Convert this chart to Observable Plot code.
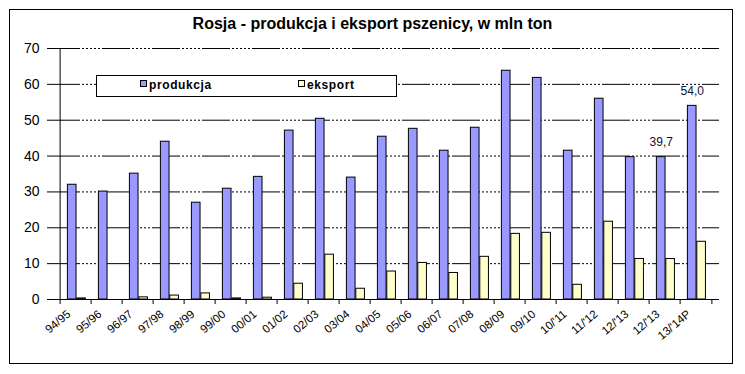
<!DOCTYPE html>
<html>
<head>
<meta charset="utf-8">
<script src="https://cdn.jsdelivr.net/npm/d3@7"></script>
<script src="https://cdn.jsdelivr.net/npm/@observablehq/plot@0.6"></script>
<style>
  html, body { margin: 0; padding: 0; background: #fff; }
  #wrap { position: relative; width: 745px; height: 374px; font-family: Arial, "Liberation Sans", sans-serif; }
  #border { position: absolute; left: 9px; top: 9px; width: 724px; height: 355px; box-sizing: border-box; border: 1px solid #000; }
  #title { position: absolute; left: 0; top: 15px; width: 745px; text-align: center; font-weight: bold; font-size: 16px; line-height: 18px; color: #000; }
  #chart { position: absolute; left: 0; top: 0; }
  #legend { position: absolute; left: 96px; top: 75px; width: 301px; height: 22px; box-sizing: border-box; border: 1px solid #000; background: #fff; }
  .sw { position: absolute; width: 7px; height: 7px; box-sizing: border-box; border: 1px solid #000; top: 4px; }
  .lt { position: absolute; top: 1px; font-size: 12px; font-weight: bold; letter-spacing: 0.6px; line-height: 16px; color: #000; }
</style>
</head>
<body>
<div id="wrap">
  <div id="border"></div>
  <div id="chart"></div>
  <div id="title"></div>
  <div id="legend"></div>
</div>
<script>
const title = "Rosja - produkcja i eksport pszenicy, w mln ton";
const categories = ["94/95","95/96","96/97","97/98","98/99","99/00","00/01","01/02","02/03","03/04","04/05","05/06","06/07","07/08","08/09","09/10","10/'11","11/'12","12/'13","12/'13","13/'14P"];
const produkcja = [32.0, 30.1, 35.1, 44.0, 27.0, 30.9, 34.2, 47.1, 50.4, 34.0, 45.4, 47.6, 41.5, 47.9, 63.8, 61.8, 41.5, 56.0, 39.7, 39.7, 54.0];
const eksport = [0.3, 0.0, 0.6, 1.1, 1.7, 0.3, 0.5, 4.4, 12.5, 3.0, 7.8, 10.2, 7.4, 11.9, 18.3, 18.6, 4.1, 21.7, 11.3, 11.3, 16.1];
const seriesNames = ["produkcja", "eksport"];
const seriesColors = ["#9999ff", "#ffffcc"];
const yTicks = [0, 10, 20, 30, 40, 50, 60, 70];
const labelledIdx = [19, 20];

const W = 745, H = 374, ml = 52, mr = 26, mt = 48, mb = 75;
const n = categories.length;
const step = (W - ml - mr) / n;
const bw = 9.4, off = 7.4;
const idx = d3.range(n);
const fmt = v => d3.format(".1f")(v).replace(".", ",");

document.getElementById("title").textContent = title;

const chart = Plot.plot({
  width: W, height: H,
  marginLeft: ml, marginRight: mr, marginTop: mt, marginBottom: mb,
  style: { fontFamily: "Arial, 'Liberation Sans', sans-serif", background: "transparent", color: "#000", overflow: "visible" },
  x: { type: "band", domain: idx, padding: 0, axis: null },
  y: { domain: [0, 70], axis: null },
  marks: [
    Plot.ruleY(yTicks.filter(v => v > 0), { stroke: "#000", strokeWidth: 1, strokeDasharray: "28 2 2 2 2 2 2 2 2 2 2 2" }),
    Plot.barY(idx, { x: d => d, y: d => produkcja[d], fill: seriesColors[0], stroke: "#000", strokeWidth: 1,
      insetLeft: off, insetRight: step - off - bw }),
    Plot.barY(idx, { x: d => d, y: d => eksport[d], fill: seriesColors[1], stroke: "#000", strokeWidth: 1,
      insetLeft: off + bw, insetRight: step - off - 2 * bw }),
    Plot.ruleY([0], { stroke: "#000", strokeWidth: 1 }),
    Plot.ruleX([0], { x: d => d, y1: 0, y2: 70, dx: -step / 2, stroke: "#000", strokeWidth: 1 }),
    Plot.ruleX(idx, { x: d => d, y1: 0, y2: 0, insetBottom: -5, dx: -step / 2, stroke: "#000", strokeWidth: 1 }),
    Plot.ruleX([n - 1], { x: d => d, y1: 0, y2: 0, insetBottom: -5, dx: step / 2, stroke: "#000", strokeWidth: 1 }),
    Plot.axisY({ ticks: yTicks, tickSize: 5, tickPadding: 8, fontSize: 14, label: null }),
    Plot.axisX({ tickSize: 0, tickPadding: 13, tickRotate: -40, tickFormat: i => categories[i], fontSize: 11.5, label: null, dx: -7 }),
    Plot.text(labelledIdx, { x: d => d, y: d => produkcja[d], text: d => fmt(produkcja[d]),
      dy: -15, dx: off + bw / 2 - step / 2, fontSize: 12, fill: "#111133" })
  ]
});
document.getElementById("chart").appendChild(chart);

const legend = document.getElementById("legend");
const legendPos = [[43, 52], [201, 210]];
seriesNames.forEach((name, i) => {
  const sw = document.createElement("div");
  sw.className = "sw";
  sw.style.left = legendPos[i][0] + "px";
  sw.style.background = seriesColors[i];
  legend.appendChild(sw);
  const t = document.createElement("div");
  t.className = "lt";
  t.style.left = legendPos[i][1] + "px";
  t.textContent = name;
  legend.appendChild(t);
});
</script>
</body>
</html>
